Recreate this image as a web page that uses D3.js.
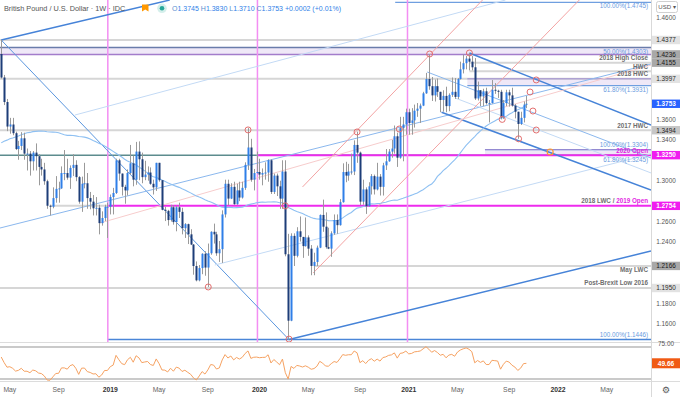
<!DOCTYPE html>
<html><head><meta charset="utf-8">
<script src="https://cdn.jsdelivr.net/npm/d3@7/dist/d3.min.js"></script>
<style>
html,body{margin:0;padding:0;background:#fff;overflow:hidden}
svg{display:block;font-family:"Liberation Sans",Arial,sans-serif}
</style></head><body>
<svg id="chart" width="680" height="397"></svg>
<script>
// ================= DATA =================
const chartTitle = "British Pound / U.S. Dollar · 1W · IDC";
const ohlcLetters = ["O","H","L","C"];
const ohlcValues = ["1.3745","1.3830","1.3710","1.3753"];
const changeText = "+0.0002 (+0.01%)";
const firstWeek = "2018-04-16";
const lastWeek = "2021-10-18";

const opens = [
1.4240,1.4010,1.3770,1.3530,1.3550,1.3465,1.3310,1.3340,1.3415,1.3265,
1.3265,1.3190,1.3275,1.3240,1.3135,1.3110,1.2995,1.2755,1.2745,1.2830,
1.2920,1.2925,1.3075,1.3075,1.3030,1.3125,1.3155,1.3035,1.2795,1.2970,
1.2975,1.2830,1.2795,1.2730,1.2735,1.2585,1.2635,1.2745,
1.2745,1.2840,1.2880,1.3200,1.3070,1.2940,1.2905,1.3075,1.3170,1.3010,
1.3285,1.3210,1.3035,1.3060,1.3080,1.2970,1.2935,1.3175,1.3005,1.2715,
1.2705,1.2615,1.2740,1.2595,1.2740,1.2695,1.2535,1.2575,1.2475,1.2375,
1.2165,1.2025,1.2145,1.2285,1.2150,1.2290,1.2500,1.2475,1.2290,1.2330,
1.2670,1.2970,1.2825,1.2940,1.2770,1.2905,1.2835,1.2930,1.3155,1.3325,
1.3010,1.3075,
1.3085,1.3060,1.3075,1.3080,1.3200,1.2890,1.3050,1.2945,1.2825,1.3090,
1.2280,1.1630,1.2460,1.2265,1.2505,1.2450,1.2360,1.2445,1.2335,1.2166,
1.2205,1.2345,1.2665,1.2550,1.2350,1.2335,1.2485,1.2615,1.2565,1.2790,
1.3085,1.3050,1.3090,1.3090,1.3350,1.3275,1.2795,1.2915,1.2750,1.2945,
1.3045,1.2915,1.3040,1.2940,1.3150,1.3190,1.3285,1.3315,1.3435,1.3225,
1.3515,1.3550,
1.3670,1.3565,1.3590,1.3685,1.3705,1.3735,1.3855,1.3995,1.3925,1.3835,
1.3925,1.3870,1.3790,1.3830,1.3730,1.3840,1.3870,1.3820,1.3995,1.4090,
1.4150,1.4195,1.4165,1.4110,1.3805,1.3885,1.3825,1.3875,1.3760,1.3760,
1.3890,1.3880,1.3870,1.3620,1.3760,1.3865,1.3835,1.3735,1.3675,1.3555,
1.3615,1.3745];

const highs = [
1.4377,1.4035,1.3800,1.3615,1.3615,1.3480,1.3390,1.3475,1.3470,1.3315,
1.3290,1.3290,1.3365,1.3260,1.3215,1.3175,1.3010,1.2765,1.2935,1.3045,
1.2990,1.3140,1.3300,1.3215,1.3150,1.3260,1.3200,1.3045,1.3040,1.3175,
1.3075,1.2890,1.2860,1.2840,1.2765,1.2700,1.2765,1.2785,
1.2865,1.2930,1.3215,1.3215,1.3070,1.2960,1.3110,1.3350,1.3245,1.3380,
1.3385,1.3275,1.3195,1.3140,1.3130,1.3010,1.3175,1.3175,1.3005,1.2745,
1.2715,1.2765,1.2760,1.2755,1.2785,1.2735,1.2585,1.2580,1.2525,1.2380,
1.2210,1.2175,1.2290,1.2310,1.2385,1.2505,1.2580,1.2500,1.2410,1.2710,
1.3010,1.3010,1.2975,1.2990,1.2970,1.2990,1.2990,1.3180,1.3515,1.3410,
1.3115,1.3285,
1.3215,1.3120,1.3180,1.3210,1.3210,1.3070,1.3070,1.3000,1.3200,1.3200,
1.2480,1.2485,1.2485,1.2545,1.2650,1.2450,1.2640,1.2465,1.2370,1.2295,
1.2365,1.2670,1.2815,1.2690,1.2540,1.2505,1.2670,1.2670,1.2820,1.3170,
1.3185,1.3165,1.3265,1.3395,1.3480,1.3285,1.3010,1.2935,1.2985,1.3065,
1.3060,1.3175,1.3065,1.3175,1.3310,1.3310,1.3400,1.3540,1.3470,1.3625,
1.3625,1.3705,
1.3705,1.3710,1.3745,1.3760,1.3755,1.3870,1.4055,1.4240,1.4015,1.3990,
1.4000,1.3870,1.3885,1.3920,1.3855,1.4010,1.4005,1.4005,1.4165,1.4235,
1.4220,1.4250,1.4220,1.4200,1.3970,1.3885,1.3900,1.3910,1.3790,1.3985,
1.3955,1.3890,1.3890,1.3790,1.3890,1.3890,1.3910,1.3750,1.3675,1.3675,
1.3775,1.3830];

const lows = [
1.4000,1.3740,1.3485,1.3460,1.3445,1.3300,1.3205,1.3300,1.3205,1.3100,
1.3050,1.3100,1.3100,1.2955,1.3050,1.2960,1.2725,1.2660,1.2730,1.2785,
1.2785,1.2920,1.3005,1.3010,1.2920,1.3045,1.2995,1.2775,1.2695,1.2925,
1.2725,1.2720,1.2660,1.2660,1.2475,1.2560,1.2605,1.2440,
1.2670,1.2670,1.2870,1.3000,1.2855,1.2775,1.2855,1.3060,1.2945,1.2960,
1.3005,1.2975,1.3005,1.3000,1.2960,1.2865,1.2900,1.2990,1.2710,1.2605,
1.2560,1.2600,1.2570,1.2505,1.2635,1.2475,1.2440,1.2380,1.2370,1.2080,
1.2015,1.2015,1.2085,1.2070,1.1960,1.2275,1.2385,1.2265,1.2205,1.2195,
1.2640,1.2760,1.2820,1.2765,1.2765,1.2800,1.2825,1.2910,1.3105,1.2990,
1.2905,1.3070,
1.3010,1.2955,1.3010,1.2990,1.2870,1.2870,1.2850,1.2725,1.2725,1.2260,
1.1445,1.1625,1.2165,1.2250,1.2405,1.2245,1.2355,1.2265,1.2075,1.2075,
1.2165,1.2340,1.2500,1.2335,1.2330,1.2255,1.2470,1.2480,1.2560,1.2785,
1.2985,1.3000,1.3060,1.3055,1.3175,1.2760,1.2765,1.2675,1.2745,1.2865,
1.2865,1.2905,1.2855,1.2855,1.3105,1.3185,1.3225,1.3265,1.3135,1.3215,
1.3190,1.3450,
1.3450,1.3450,1.3520,1.3625,1.3565,1.3730,1.3850,1.3890,1.3780,1.3775,
1.3820,1.3670,1.3675,1.3670,1.3680,1.3820,1.3800,1.3800,1.3990,1.4050,
1.4090,1.4080,1.4080,1.3790,1.3785,1.3730,1.3730,1.3745,1.3570,1.3755,
1.3850,1.3810,1.3600,1.3605,1.3730,1.3725,1.3725,1.3610,1.3410,1.3545,
1.3570,1.3710];

const closes = [
1.4010,1.3770,1.3530,1.3550,1.3465,1.3310,1.3340,1.3415,1.3265,1.3265,
1.3190,1.3275,1.3240,1.3135,1.3110,1.2995,1.2755,1.2745,1.2830,1.2920,
1.2925,1.3075,1.3075,1.3030,1.3125,1.3155,1.3035,1.2795,1.2970,1.2975,
1.2830,1.2795,1.2730,1.2735,1.2585,1.2635,1.2745,1.2745,
1.2840,1.2880,1.3200,1.3070,1.2940,1.2905,1.3075,1.3170,1.3010,1.3285,
1.3210,1.3035,1.3060,1.3080,1.2970,1.2935,1.3175,1.3005,1.2715,1.2705,
1.2615,1.2740,1.2595,1.2740,1.2695,1.2535,1.2575,1.2475,1.2375,1.2165,
1.2025,1.2145,1.2285,1.2150,1.2290,1.2500,1.2475,1.2290,1.2330,1.2670,
1.2970,1.2825,1.2940,1.2770,1.2905,1.2835,1.2930,1.3155,1.3325,1.3010,
1.3075,1.3085,
1.3060,1.3075,1.3080,1.3200,1.2890,1.3050,1.2945,1.2825,1.3090,1.2280,
1.1630,1.2460,1.2265,1.2505,1.2450,1.2360,1.2445,1.2335,1.2166,1.2205,
1.2345,1.2665,1.2550,1.2350,1.2335,1.2485,1.2615,1.2565,1.2790,1.3085,
1.3050,1.3090,1.3090,1.3350,1.3275,1.2795,1.2915,1.2750,1.2945,1.3045,
1.2915,1.3040,1.2940,1.3150,1.3190,1.3285,1.3315,1.3435,1.3225,1.3515,
1.3550,1.3670,
1.3565,1.3590,1.3685,1.3705,1.3735,1.3855,1.3995,1.3925,1.3835,1.3925,
1.3870,1.3790,1.3830,1.3730,1.3840,1.3870,1.3820,1.3995,1.4090,1.4150,
1.4195,1.4165,1.4110,1.3805,1.3885,1.3825,1.3875,1.3760,1.3760,1.3890,
1.3880,1.3870,1.3620,1.3760,1.3865,1.3835,1.3735,1.3675,1.3555,1.3615,
1.3745,1.3753];

// weekly closes of the 52 weeks before the window (for the 52-week average and RSI warm-up)
const priorCloses = [
1.2830,1.2945,1.2965,1.2885,1.3030,1.2805,1.2890,1.2745,1.2780,1.2715,
1.3025,1.2885,1.3100,1.3000,1.3130,1.3040,1.3010,1.2880,1.2880,1.2995,
1.3200,1.3610,1.3505,1.3395,1.3065,1.3285,1.3195,1.3125,1.3080,1.3190,
1.3210,1.3330,1.3480,1.3385,1.3325,1.3365,1.3505,1.3570,1.3725,1.3865,
1.4145,1.4125,1.3825,1.4015,1.3930,1.3800,1.3850,1.3950,1.4140,1.4015,
1.4100,1.4240];

const priceTickValues = [1.46,1.44,1.42,1.40,1.38,1.36,1.34,1.32,1.30,1.28,1.26,1.24,1.22,1.20,1.18,1.16];
const xTickLabels = ["May","Sep","2019","May","Sep","2020","May","Sep","2021","May","Sep","2022","May"];
const xTickDates  = ["2018-05-07","2018-09-03","2019-01-07","2019-05-06","2019-09-02","2020-01-06","2020-05-04","2020-09-07","2021-01-04","2021-05-03","2021-09-06","2022-01-03","2022-05-02"];
const yearMarkers = ["2019-01-01","2020-01-01","2021-01-01"];

const hLevels = [
  {price:1.4377, from:null, to:null, kind:"grey"},
  {price:1.4155, from:"2021-06-01", to:null, kind:"grey"},
  {price:1.4070, from:"2021-06-01", to:null, kind:"grey"},
  {price:1.3997, from:null, to:null, kind:"grey"},
  {price:1.3494, from:null, to:null, kind:"grey"},
  {price:1.3250, from:null, to:null, kind:"teal"},
  {price:1.2754, from:"2018-08-13", to:"2019-01-01", kind:"grey"},
  {price:1.2166, from:"2020-05-21", to:null, kind:"grey"},
  {price:1.1950, from:null, to:null, kind:"grey"},
  {price:1.3250, from:"2020-01-01", to:null, kind:"magenta"},
  {price:1.2754, from:"2019-01-01", to:null, kind:"magenta"},
  {price:1.4745, from:"2020-12-02", to:null, kind:"fib"},
  {price:1.3931, from:"2021-05-27", to:null, kind:"fib"},
  {price:1.3304, from:"2021-07-09", to:null, kind:"fib"},
  {price:1.1446, from:"2019-01-01", to:null, kind:"fibDark"}
];
const bands = [
  {top:1.4303, bottom:1.4236, from:null},
  {top:1.3997, bottom:1.3931, from:"2021-05-27"},
  {top:1.3304, bottom:1.3245, from:"2021-07-09"}
];

const trendLines = [
  {a:["2018-04-16",1.4377], b:["2020-03-18",1.1445], kind:"thin"},
  {a:["2020-03-18",1.1445], b:["2022-08-18",1.2312], kind:"main"},
  {a:["2018-04-16",1.4377], b:["2019-06-01",1.4768], kind:"main"},
  {a:["2018-04-13",1.2537], b:["2022-08-18",1.4142], kind:"median"},
  {a:["2018-10-13",1.3643], b:["2021-08-28",1.4768], kind:"light"},
  {a:["2019-09-19",1.2175], b:["2022-08-18",1.3262], kind:"light"},
  {a:["2021-06-01",1.4250], b:["2022-08-18",1.3545], kind:"main"},
  {a:["2021-03-25",1.3670], b:["2022-08-18",1.2909], kind:"main"},
  {a:["2021-02-18",1.4064], b:["2022-08-18",1.3222], kind:"median"},
  {a:["2021-04-27",1.3810], b:["2022-08-18",1.3076], kind:"light"},
  {a:["2020-04-20",1.2939], b:["2021-07-03",1.4768], kind:"pink"},
  {a:["2020-05-16",1.2097], b:["2022-02-24",1.4768], kind:"pink"},
  {a:["2018-12-13",1.2586], b:["2022-08-18",1.4132], kind:"pinkFaint"}
];

const markerDates  = ["2019-12-09","2019-09-03","2020-03-18","2020-03-09","2020-08-31","2020-12-12","2021-02-24","2021-06-01","2021-08-20","2021-09-29","2021-10-27","2021-11-11","2021-11-03","2021-11-11"];
const markerPrices = [1.3497,1.1960,1.1450,1.2754,1.3477,1.3506,1.4240,1.4250,1.3600,1.3410,1.3868,1.3986,1.3682,1.3496];
const projectionDate = "2021-12-15";
const projectionPrice = 1.3281;

const levelLabels = [
  {text:"100.00%(1.4745)", price:1.4745, kind:"fib"},
  {text:"50.00%(1.4303)", price:1.4303, kind:"fib"},
  {text:"2018 High Close", price:1.4155, kind:"note"},
  {text:"HWC", price:1.4070, kind:"note"},
  {text:"2018 HWC", price:1.3997, kind:"note"},
  {text:"61.80%(1.3931)", price:1.3931, kind:"fib"},
  {text:"2017 HWC", price:1.3494, kind:"note"},
  {text:"100.00%(1.3304)", price:1.3304, kind:"fib"},
  {text:"2020 Open", price:1.3250, kind:"open"},
  {text:"61.80%(1.3245)", price:1.3245, kind:"fib"},
  {text:"May LWC", price:1.2166, kind:"note"},
  {text:"Post-Brexit Low 2016", price:1.1950, kind:"note"},
  {text:"100.00%(1.1446)", price:1.1446, kind:"fib"}
];
const splitLabelParts = ["2018 LWC / ","2019 Open"];
const splitLabelPrice = 1.2754;

const priceTags = [1.4377,1.4236,1.4155,1.3997,1.3753,1.3494,1.3250,1.2754,1.2166,1.1950];
const priceTagKinds = ["light","dark","dark","light","last","mid","magenta","magenta","dark","light"];
const rsiTickValue = "75.00";
const rsiLast = 49.66;
const currencyLabel = "USD ▾";

// ================= LAYOUT / STYLE =================
const W = 680, H = 397, plotR = 651, mainB = 342, rsiTop = 342, rsiB = 381;
const svg = d3.select("#chart");
const parse = s => new Date(s + "T00:00:00Z");

const x = d3.scaleUtc().domain([parse("2018-04-13"), parse("2022-08-18")]).range([0, plotR]);
const y = d3.scaleLinear().domain([1.1446, 1.4377]).range([339.5, 40]);
const yR = d3.scaleLinear().domain([30, 70]).range([379, 347]);

let weeks = d3.utcMonday.range(parse(firstWeek), d3.utcDay.offset(parse(lastWeek), 1));
const n = Math.min(weeks.length, closes.length);
weeks = weeks.slice(0, n);
const idx = d3.range(n);

const defs = svg.append("defs");
defs.append("clipPath").attr("id","clipMain").append("rect").attr("x",0).attr("y",0).attr("width",plotR).attr("height",mainB);
defs.append("clipPath").attr("id","clipRsi").append("rect").attr("x",0).attr("y",rsiTop).attr("width",plotR).attr("height",rsiB-rsiTop);

svg.append("rect").attr("width",W).attr("height",H).attr("fill","#fff");

const main = svg.append("g").attr("clip-path","url(#clipMain)");

// bands
const bandFill = "#efe8f7";
main.append("g").selectAll("rect").data(bands).join("rect")
  .attr("x", d => d.from ? x(parse(d.from)) : 0)
  .attr("y", d => y(d.top))
  .attr("width", d => plotR - (d.from ? x(parse(d.from)) : 0))
  .attr("height", d => y(d.bottom) - y(d.top))
  .attr("fill", bandFill);

// horizontal levels
const levelStyle = {
  grey:{stroke:"#d6d6d6", w:2},
  teal:{stroke:"#5d8c8e", w:1.5},
  magenta:{stroke:"#ee2bee", w:2},
  fib:{stroke:"#6f9fe0", w:1.2},
  fibDark:{stroke:"#4a86d8", w:1.5}
};
main.append("g").selectAll("line").data(hLevels).join("line")
  .attr("x1", d => d.from ? x(parse(d.from)) : 0)
  .attr("x2", d => d.to ? x(parse(d.to)) : plotR)
  .attr("y1", d => y(d.price)).attr("y2", d => y(d.price))
  .attr("stroke", d => levelStyle[d.kind].stroke)
  .attr("stroke-width", d => levelStyle[d.kind].w);

// band borders
const b0 = bands[0];
main.append("line").attr("x1",0).attr("x2",plotR).attr("y1",y(b0.top)).attr("y2",y(b0.top)).attr("stroke","#6a7cab").attr("stroke-width",1.5);
main.append("line").attr("x1",0).attr("x2",plotR).attr("y1",y(b0.bottom)).attr("y2",y(b0.bottom)).attr("stroke","#a37ccb").attr("stroke-width",1.5);
main.append("g").selectAll("line").data(bands.slice(1)).join("line")
  .attr("x1", d => x(parse(d.from))).attr("x2", plotR)
  .attr("y1", d => y(d.top)).attr("y2", d => y(d.top))
  .attr("stroke","#9a88d0").attr("stroke-width",1);

// vertical year markers
main.append("g").selectAll("line").data(yearMarkers).join("line")
  .attr("x1", d => x(parse(d))).attr("x2", d => x(parse(d)))
  .attr("y1", 0).attr("y2", mainB)
  .attr("stroke", "#f38ef3").attr("stroke-width", 1.5);

// trend lines
const trendStyle = {
  thin:{stroke:"#5b97df", w:1},
  main:{stroke:"#4683d8", w:1.5},
  median:{stroke:"#8bb8ee", w:1},
  light:{stroke:"#c3daf5", w:1},
  pink:{stroke:"#f3a3a3", w:1},
  pinkFaint:{stroke:"#f7cccc", w:1}
};
main.append("g").selectAll("line").data(trendLines).join("line")
  .attr("x1", d => x(parse(d.a[0]))).attr("y1", d => y(d.a[1]))
  .attr("x2", d => x(parse(d.b[0]))).attr("y2", d => y(d.b[1]))
  .attr("stroke", d => trendStyle[d.kind].stroke)
  .attr("stroke-width", d => trendStyle[d.kind].w);

// 52-week simple moving average of closes
const allCloses = priorCloses.concat(closes.slice(0, n));
const off = priorCloses.length;
const sma = idx.map(i => d3.mean(allCloses.slice(i + off - 51, i + off + 1)));
main.append("path")
  .attr("d", d3.line().x(i => x(weeks[i])).y(i => y(sma[i]))(idx))
  .attr("fill","none").attr("stroke","#8ec0f2").attr("stroke-width",1.1);

// candles
const upCol = "#2f7fe8", downCol = "#1d3d78", wickCol = "#9a9a9a";
const cx = i => Math.round(x(weeks[i]));
const cg = main.append("g");
cg.selectAll("line").data(idx).join("line")
  .attr("x1", i => cx(i) + 0.5).attr("x2", i => cx(i) + 0.5)
  .attr("y1", i => y(highs[i])).attr("y2", i => y(lows[i]))
  .attr("stroke", wickCol).attr("stroke-width", 1);
cg.selectAll("rect").data(idx).join("rect")
  .attr("x", i => cx(i) - 0.5).attr("width", 2)
  .attr("y", i => y(Math.max(opens[i], closes[i])))
  .attr("height", i => Math.max(1, Math.abs(y(opens[i]) - y(closes[i]))))
  .attr("fill", i => closes[i] >= opens[i] ? upCol : downCol);

// markers
main.append("g").selectAll("circle").data(markerDates).join("circle")
  .attr("cx", (d,i) => x(parse(d))).attr("cy", (d,i) => y(markerPrices[i]))
  .attr("r", 3).attr("fill","none").attr("stroke","#e36f6f").attr("stroke-width",1);
main.append("circle").attr("cx", x(parse(projectionDate))).attr("cy", y(projectionPrice))
  .attr("r", 3).attr("fill","none").attr("stroke","#ff9a2e").attr("stroke-width",1.2);

// level labels
const belowSet = new Set(["100.00%(1.4745)","50.00%(1.4303)","61.80%(1.3931)","61.80%(1.3245)","May LWC"]);
const labelColor = {fib:"#6a9be0", note:"#6e6e6e", open:"#e21fe2"};
const lg = svg.append("g").attr("font-size", 6.3).attr("text-anchor","end");
lg.selectAll("text").data(levelLabels).join("text")
  .attr("x", 648)
  .attr("y", d => y(d.price) + (belowSet.has(d.text) ? 6 : -2.5))
  .attr("fill", d => labelColor[d.kind])
  .attr("font-weight", d => d.kind === "fib" ? "normal" : "bold")
  .text(d => d.text);
const split = lg.append("text").attr("x",648).attr("y", y(splitLabelPrice) - 2.5).attr("font-weight","bold");
split.append("tspan").attr("fill", labelColor.note).text(splitLabelParts[0]);
split.append("tspan").attr("fill", labelColor.open).text(splitLabelParts[1]);

// ---------------- RSI pane ----------------
function wilderRSI(arr, p) {
  const out = new Array(arr.length).fill(null);
  let ag = 0, al = 0;
  for (let i = 1; i < arr.length; i++) {
    const d = arr[i] - arr[i-1], g = Math.max(d,0), l = Math.max(-d,0);
    if (i <= p) { ag += g; al += l; if (i === p) { ag /= p; al /= p; out[i] = 100 - 100/(1 + ag/al); } }
    else { ag = (ag*(p-1) + g)/p; al = (al*(p-1) + l)/p; out[i] = al === 0 ? 100 : 100 - 100/(1 + ag/al); }
  }
  return out;
}
const rsiAll = wilderRSI(allCloses, 14);
const rsi = idx.map(i => rsiAll[i + off]);
const rg = svg.append("g");
rg.append("line").attr("x1",0).attr("x2",plotR).attr("y1",yR(70)).attr("y2",yR(70)).attr("stroke","#b9b9b9").attr("stroke-width",1.5);
rg.append("line").attr("x1",0).attr("x2",plotR).attr("y1",yR(30)).attr("y2",yR(30)).attr("stroke","#b9b9b9").attr("stroke-width",1.5);
rg.append("path").attr("clip-path","url(#clipRsi)")
  .attr("d", d3.line().x(i => x(weeks[i])).y(i => yR(rsi[i]))(idx))
  .attr("fill","none").attr("stroke","#f6a262").attr("stroke-width",1);

// pane separators & axis border
svg.append("line").attr("x1",0).attr("x2",W).attr("y1",mainB+0.5).attr("y2",mainB+0.5).attr("stroke","#dcdcdc").attr("stroke-width",1);
svg.append("line").attr("x1",0).attr("x2",W).attr("y1",rsiB+0.5).attr("y2",rsiB+0.5).attr("stroke","#dcdcdc").attr("stroke-width",1);
svg.append("line").attr("x1",plotR+0.5).attr("x2",plotR+0.5).attr("y1",0).attr("y2",H).attr("stroke","#d9d9d9").attr("stroke-width",1);

// right price axis: tick labels hidden where a price tag sits (as the platform does)
const visibleTicks = priceTickValues.filter(v => priceTags.every(p => Math.abs(y(v) - y(p)) >= 8.5));
const ax = svg.append("g").attr("font-size",6.4).attr("text-anchor","middle").attr("fill","#555");
ax.selectAll("text").data(visibleTicks).join("text")
  .attr("x", 666).attr("y", d => y(d) + 2.3).text(d => d.toFixed(4));
const tagStyle = {
  light:{bg:"#e2e2e2", fg:"#2a2a2a"},
  mid:{bg:"#c6c6c6", fg:"#1e1e1e"},
  dark:{bg:"#a8a8a8", fg:"#161616"},
  last:{bg:"#2962ff", fg:"#ffffff"},
  magenta:{bg:"#f01cf0", fg:"#ffffff"}
};
const tg = svg.append("g").attr("font-size",6.4).attr("text-anchor","middle");
priceTags.forEach((p,i) => {
  const st = tagStyle[priceTagKinds[i]];
  tg.append("rect").attr("x", plotR+1).attr("y", y(p) - 4.2).attr("width", W - plotR - 1).attr("height", 8.4).attr("fill", st.bg);
  tg.append("text").attr("x", 666).attr("y", y(p) + 2.3).attr("fill", st.fg).attr("font-weight", priceTagKinds[i]==="last"||priceTagKinds[i]==="magenta" ? "bold" : "normal").text(p.toFixed(4));
});
// currency button
svg.append("rect").attr("x",656.5).attr("y",1.5).attr("width",21).attr("height",11).attr("rx",2).attr("fill","#fff").attr("stroke","#d0d0d0");
svg.append("text").attr("x",667).attr("y",9.3).attr("font-size",6).attr("text-anchor","middle").attr("fill","#555").text(currencyLabel);

// RSI axis
svg.append("text").attr("x",666).attr("y",yR(75)+3).attr("font-size",6.4).attr("text-anchor","middle").attr("fill","#555").text(rsiTickValue);
svg.append("rect").attr("x",plotR+1).attr("y",yR(rsiLast)-5).attr("width",W-plotR-1).attr("height",10).attr("fill","#f05a14");
svg.append("text").attr("x",666).attr("y",yR(rsiLast)+2.4).attr("font-size",6.6).attr("font-weight","bold").attr("text-anchor","middle").attr("fill","#fff").text(rsiLast.toFixed(2));

// x axis labels
svg.append("g").selectAll("text").data(xTickLabels).join("text")
  .attr("x", (d,i) => x(parse(xTickDates[i])))
  .attr("y", 391.5)
  .attr("font-size", 6.8)
  .attr("text-anchor","middle")
  .attr("font-weight", d => /^\d{4}$/.test(d) ? "bold" : "normal")
  .attr("fill", d => /^\d{4}$/.test(d) ? "#333" : "#666")
  .text(d => d);
svg.append("text").attr("x",666).attr("y",393).attr("font-size",9).attr("text-anchor","middle")
  .attr("font-family","DejaVu Sans").attr("fill","#555").text("⚙");

// header
const hd = svg.append("g");
hd.append("text").attr("x",4).attr("y",11).attr("font-size",7.3).attr("fill","#555").text(chartTitle);
hd.append("path").attr("d","M142,4.5 h6.5 v7 l-3.25,-2 l-3.25,2 z").attr("fill","#ff9800");
hd.append("circle").attr("cx",162).attr("cy",8.3).attr("r",4.8).attr("fill","#d5efeb");
hd.append("circle").attr("cx",162).attr("cy",8.3).attr("r",2.3).attr("fill","#26a69a");
const ot = hd.append("text").attr("x",172).attr("y",11).attr("font-size",7);
ohlcLetters.forEach((l,i) => {
  ot.append("tspan").attr("fill","#5b8fcf").text((i ? " " : "") + l);
  ot.append("tspan").attr("fill","#2f7fe8").text(ohlcValues[i]);
});
ot.append("tspan").attr("fill","#2f7fe8").text(" " + changeText);
</script>
</body></html>
